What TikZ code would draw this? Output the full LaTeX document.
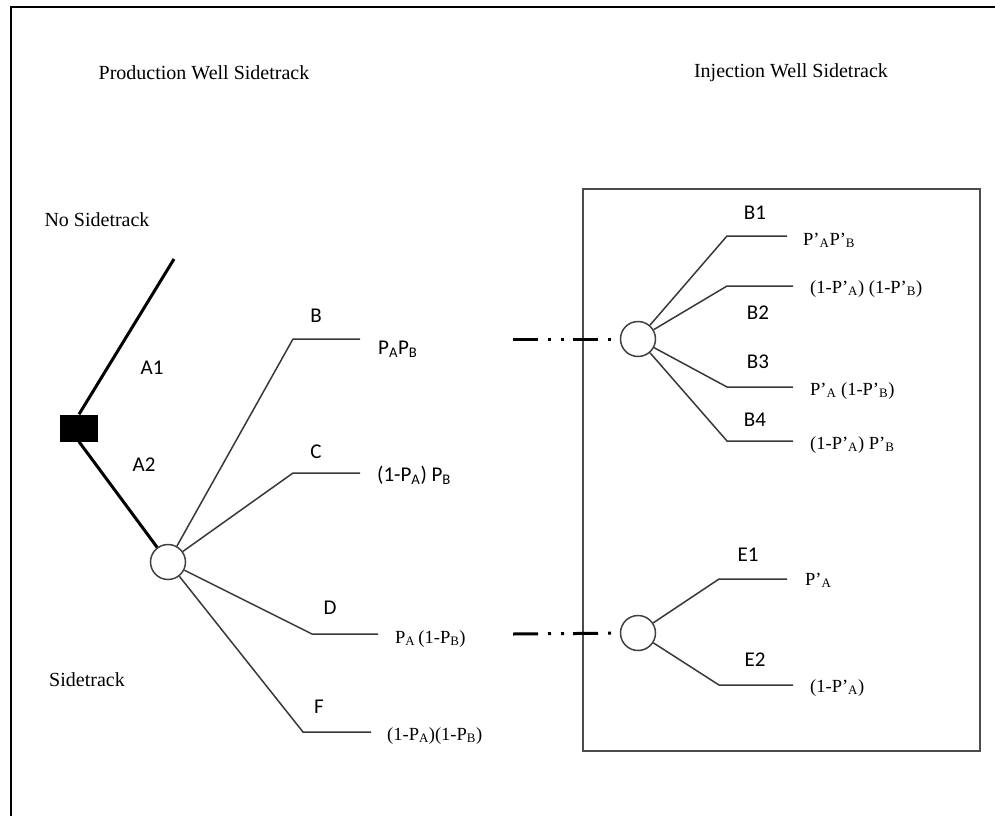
\documentclass[tikz,border=0pt]{standalone}
\usepackage{fontspec}
\setmainfont{Liberation Serif}
\newfontfamily\calib{Carlito}
\begin{document}
\begin{tikzpicture}[x=1pt,y=-1pt,
  thinline/.style={line width=1.5pt, draw=black!78},
  thickline/.style={line width=3pt, draw=black},
  chance/.style={circle, draw=black!75, line width=1.5pt, minimum size=35pt, inner sep=0pt, fill=white},
  decision/.style={rectangle, fill=black, minimum width=38pt, minimum height=27pt, inner sep=0pt},
  sanslbl/.style={font=\calib\fontsize{21}{24}\selectfont, inner sep=0pt},
  seriflbl/.style={font=\fontsize{18.5}{21}\selectfont, inner sep=0pt, anchor=base west},
  sansform/.style={font=\calib\fontsize{21}{24}\selectfont, inner sep=0pt, anchor=base west},
  titlelbl/.style={font=\fontsize{20}{24}\selectfont, inner sep=0pt},
  linkline/.style={line width=3pt, draw=black, dash pattern=on 25pt off 10pt on 3pt off 10pt on 3pt off 9pt}
]
\useasboundingbox (0,0) rectangle (995,816);
% outer frame (top and left)
\draw[line width=2pt] (11,816) -- (11,7) -- (995,7);
% inner box
\draw[line width=1.8pt, draw=black!70] (583,189) rectangle (980,751);

% titles
\node[titlelbl] (t1) at (204,73) {Production Well Sidetrack};
\node[titlelbl] (t2) at (791,73) {Injection Well Sidetrack};
\node[titlelbl] (ns) at (97,220) {No Sidetrack};
\node[titlelbl] (st) at (87,680) {Sidetrack};

% decision node
\node[decision] (sq) at (79,428) {};
\coordinate (a1end) at (174,259);
\node[chance] (c0) at (168,562) {};
\draw[thickline] (sq.north) -- (a1end);
\draw[thickline] (sq.south) -- (c0);
\node[sanslbl] (la1) at (152,368) {A1};
\node[sanslbl] (la2) at (144,465) {A2};

% left branches
\coordinate (kB) at (293,339); \coordinate (eB) at (360,339);
\coordinate (kC) at (293,473); \coordinate (eC) at (360,473);
\coordinate (kD) at (312,634); \coordinate (eD) at (378,634);
\coordinate (kF) at (303,732); \coordinate (eF) at (371,732);
\draw[thinline] (c0) -- (kB) -- (eB);
\draw[thinline] (c0) -- (kC) -- (eC);
\draw[thinline] (c0) -- (kD) -- (eD);
\draw[thinline] (c0) -- (kF) -- (eF);
\node[sanslbl] (lB) at (316,316) {B};
\node[sanslbl] (lC) at (316,452) {C};
\node[sanslbl] (lD) at (330,608) {D};
\node[sanslbl] (lF) at (319,707) {F};
\node[sansform] (pB) at (378,354) {P\textsubscript{A}P\textsubscript{B}};
\node[sansform] (pC) at (377,481) {(1-P\textsubscript{A}) P\textsubscript{B}};
\node[seriflbl] (pD) at (395,643) {P\textsubscript{A}\,(1-P\textsubscript{B})};
\node[seriflbl] (pF) at (387,740) {(1-P\textsubscript{A})(1-P\textsubscript{B})};

% right chance nodes
\node[chance] (c1) at (638,339) {};
\node[chance] (c2) at (638,633) {};
\coordinate (s1) at (513,339);
\coordinate (s2) at (513,634);
\draw[linkline] (s1) -- (c1);
\draw[linkline] (s2) -- (c2);

% B1..B4
\coordinate (k1) at (727,236); \coordinate (e1) at (787,236);
\coordinate (k2) at (727,286); \coordinate (e2) at (793,286);
\coordinate (k3) at (727,387); \coordinate (e3) at (793,387);
\coordinate (k4) at (727,441); \coordinate (e4) at (793,441);
\draw[thinline] (c1) -- (k1) -- (e1);
\draw[thinline] (c1) -- (k2) -- (e2);
\draw[thinline] (c1) -- (k3) -- (e3);
\draw[thinline] (c1) -- (k4) -- (e4);
\node[sanslbl] (lB1) at (755,213) {B1};
\node[sanslbl] (lB2) at (758,313) {B2};
\node[sanslbl] (lB3) at (758,362) {B3};
\node[sanslbl] (lB4) at (755,420) {B4};
\node[seriflbl] (p1) at (803,245) {P’\textsubscript{A}P’\textsubscript{B}};
\node[seriflbl] (p2) at (810,293) {(1-P’\textsubscript{A}) (1-P’\textsubscript{B})};
\node[seriflbl] (p3) at (810,395) {P’\textsubscript{A} (1-P’\textsubscript{B})};
\node[seriflbl] (p4) at (810,449) {(1-P’\textsubscript{A}) P’\textsubscript{B}};

% E1, E2
\coordinate (k5) at (719,579); \coordinate (e5) at (787,579);
\coordinate (k6) at (719,685); \coordinate (e6) at (793,685);
\draw[thinline] (c2) -- (k5) -- (e5);
\draw[thinline] (c2) -- (k6) -- (e6);
\node[sanslbl] (lE1) at (748,555) {E1};
\node[sanslbl] (lE2) at (755,660) {E2};
\node[seriflbl] (p5) at (805,585) {P’\textsubscript{A}};
\node[seriflbl] (p6) at (810,692) {(1-P’\textsubscript{A})};
\end{tikzpicture}
\end{document}
